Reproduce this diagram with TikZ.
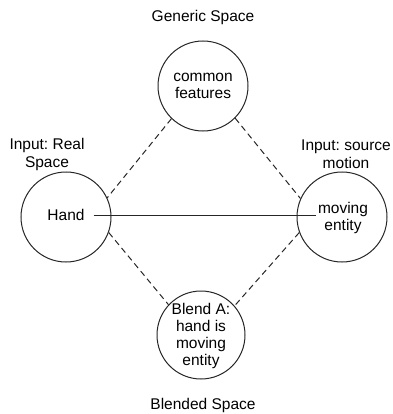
\documentclass[tikz,border=0pt]{standalone}
\usepackage{fontspec}
\setmainfont{Liberation Sans}
\frenchspacing
\begin{document}
\begin{tikzpicture}[x=1pt,y=-1pt,
  space/.style={draw=black!85,line width=1pt,circle,minimum size=90pt,inner sep=0pt},
  txt/.style={align=center,inner sep=2pt,font=\fontsize{15.5}{16.8}\selectfont},
  caption/.style={align=center,inner sep=0pt,font=\fontsize{15.5}{18}\selectfont},
  mapping/.style={draw=black!85,line width=1pt,dash pattern=on 6pt off 4pt},
  link/.style={draw=black!85,line width=1pt}]
\useasboundingbox (0,0) rectangle (392,414);
% the four mental spaces
\node[space] (generic) at (203,86) {};
\node[space] (real) at (66,217) {};
\node[space] (source) at (342,217) {};
\node[space,minimum size=88pt] (blend) at (201,335) {};
% contents of each space
\node[txt] (common) at (generic) {common\\features};
\node[txt] (hand) at (66,215) {Hand};
\node[txt] (moving) at (343,218) {moving\\entity};
\node[txt] (blendtxt) at (201,336) {Blend A:\\hand is\\moving\\entity};
% space titles
\node[caption] (gentitle) at (203,17) {Generic Space};
\node[caption] (realtitle) at (47,154) {Input: Real\\Space};
\node[caption] (srctitle) at (346,154) {Input: source\\motion};
\node[caption] (blendtitle) at (203,405) {Blended Space};
% cross-space mappings
\draw[mapping] (generic.226) -- (real.25);
\draw[mapping] (generic.315) -- (source.156);
\draw[mapping] (real.-20) -- (blend.137);
\draw[mapping] (source.200) -- (blend.41);
% counterpart connection
\draw[link] ([xshift=7pt]hand.east) -- (hand.east -| moving.west);
\end{tikzpicture}
\end{document}
